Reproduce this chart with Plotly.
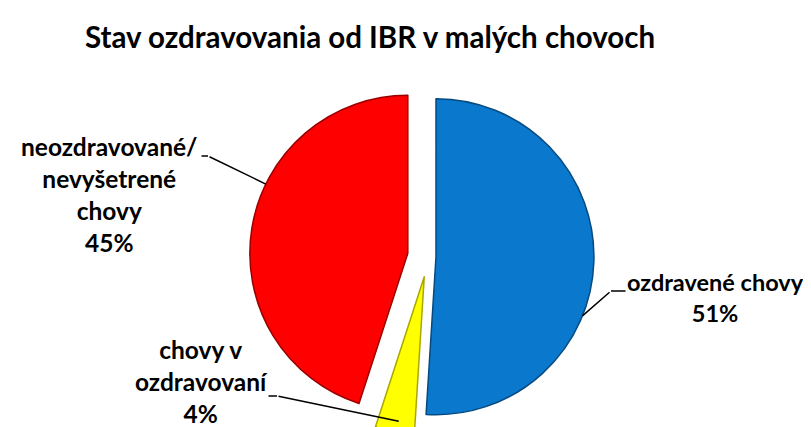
import math
import plotly.graph_objects as go

# ---- data ----
categories = ["ozdravené chovy", "chovy v ozdravovaní", "neozdravované/ nevyšetrené chovy"]
values = [51, 4, 45]
label_texts = ["ozdravené chovy", "chovy v<br>ozdravovaní", "neozdravované/<br>nevyšetrené<br>chovy"]
colors = ["#0A78CC", "#FFFF00", "#FF0000"]
edge_colors = ["#064A80", "#A8A800", "#9A0000"]
pulls = [0.05, 0.13, 0.13]
title_text = "Stav ozdravovania od IBR v malých chovoch"

# ---- layout geometry ----
W, H = 811, 427
dom_x = [0.036, 1.0]
dom_y = [0.0, 0.836]
FONT = "Lato"

fig = go.Figure(go.Pie(
    labels=categories,
    values=values,
    sort=False,
    direction="clockwise",
    rotation=0,
    pull=pulls,
    marker=dict(colors=colors, line=dict(color=edge_colors, width=1.5)),
    textinfo="none",
    hoverinfo="label+percent",
    domain=dict(x=dom_x, y=dom_y),
    showlegend=False,
))

# pie geometry (same rule plotly uses): r = min(rx, ry) / (1 + maxPull)
rx = W * (dom_x[1] - dom_x[0]) / 2
ry = H * (dom_y[1] - dom_y[0]) / 2
r = min(rx, ry) / (1 + max(pulls))
cx = W * (dom_x[0] + dom_x[1]) / 2
cy = H - H * (dom_y[0] + dom_y[1]) / 2  # from top

total = sum(values)
starts = []
acc = 0
for v in values:
    starts.append(acc / total * 360)
    acc += v

def slice_point(i, ang, frac=1.0):
    a0 = starts[i]
    a1 = a0 + values[i] / total * 360
    am = math.radians((a0 + a1) / 2)
    ox = r * pulls[i] * math.sin(am)
    oy = -r * pulls[i] * math.cos(am)
    t = math.radians(ang)
    return (cx + ox + frac * r * math.sin(t), cy + oy - frac * r * math.cos(t))

def P(x, y):
    return x / W, 1 - y / H

# label placement: (text center x, y), font size, leader tick start, tick end, tip angle, radius frac
label_layout = [
    dict(pos=(707, 289), size=23.5, t0=(619, 283), t1=(603, 283), ang=112, frac=1.0),
    dict(pos=(193, 373), size=24.5, t0=(259, 388), t1=(269, 388), ang=190, frac=0.93),
    dict(pos=(101, 186), size=24.5, t0=(192, 148), t1=(200, 148), ang=296, frac=1.0),
]

annotations = []
for i, L in enumerate(label_layout):
    pct = round(values[i] / total * 100)
    x, y = P(*L["pos"])
    annotations.append(dict(
        x=x, y=y, xref="paper", yref="paper", xanchor="center", yanchor="middle",
        text=f"<b>{label_texts[i]}<br>{pct}%</b>", showarrow=False, align="center",
        font=dict(family=FONT, size=L["size"], color="#000000"),
    ))
    # short horizontal tick
    tx0, ty0 = L["t0"]
    tx1, ty1 = L["t1"]
    ax, ay = P(tx1, ty1)
    annotations.append(dict(
        x=ax, y=ay, xref="paper", yref="paper", text="", showarrow=True,
        arrowhead=0, arrowwidth=1.5, arrowcolor="#000000",
        ax=tx0 - tx1, ay=ty0 - ty1, standoff=0, startstandoff=0,
    ))
    # diagonal to the slice
    px_, py_ = slice_point(i, L["ang"], L["frac"])
    bx, by = P(px_, py_)
    annotations.append(dict(
        x=bx, y=by, xref="paper", yref="paper", text="", showarrow=True,
        arrowhead=0, arrowwidth=1.5, arrowcolor="#000000",
        ax=tx1 - px_, ay=ty1 - py_, standoff=0, startstandoff=0,
    ))

fig.update_layout(
    width=W, height=H,
    margin=dict(l=0, r=0, t=0, b=0),
    paper_bgcolor="#FFFFFF",
    plot_bgcolor="#FFFFFF",
    title=dict(text=f"<b>{title_text}</b>", x=362 / W, xanchor="center",
               y=1 - 30 / H, yanchor="middle",
               font=dict(family=FONT, size=29.5, color="#000000")),
    annotations=annotations,
    font=dict(family=FONT),
)

fig.write_html("out.html")
